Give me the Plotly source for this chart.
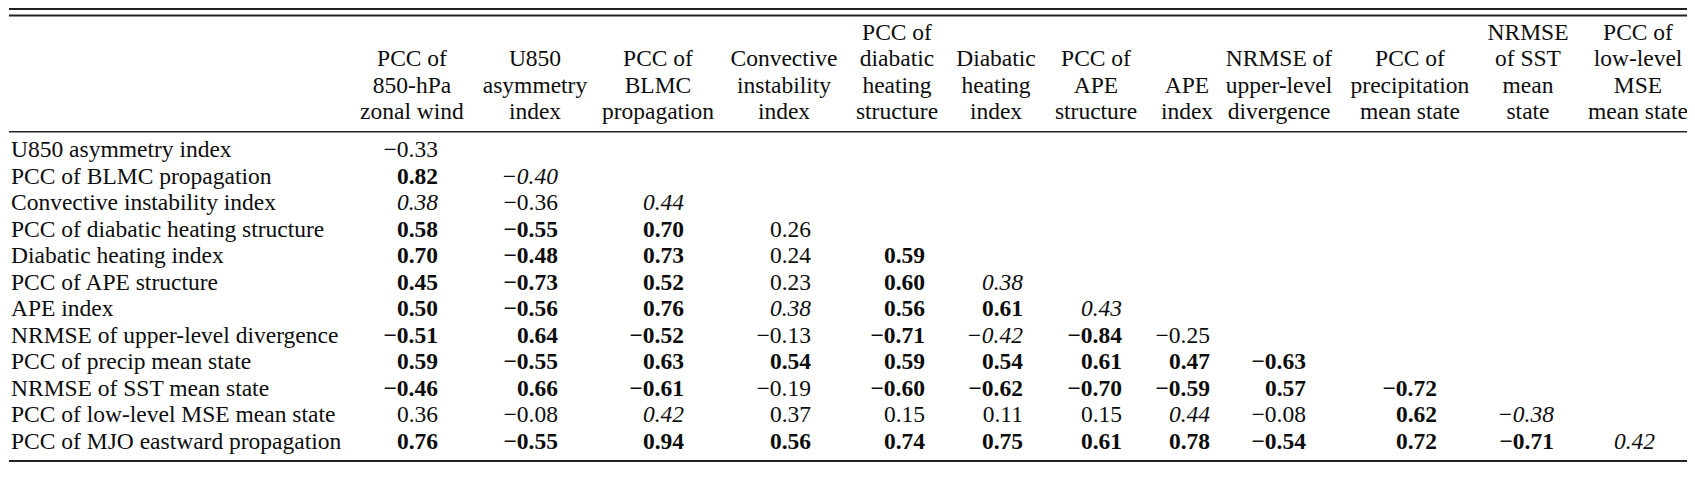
import plotly.graph_objects as go

# Correlation table between MJO diagnostics (lower triangle)
row_labels = [
    "U850 asymmetry index",
    "PCC of BLMC propagation",
    "Convective instability index",
    "PCC of diabatic heating structure",
    "Diabatic heating index",
    "PCC of APE structure",
    "APE index",
    "NRMSE of upper-level divergence",
    "PCC of precip mean state",
    "NRMSE of SST mean state",
    "PCC of low-level MSE mean state",
    "PCC of MJO eastward propagation",
]

col_labels = [
    "PCC of<br>850-hPa<br>zonal wind",
    "U850<br>asymmetry<br>index",
    "PCC of<br>BLMC<br>propagation",
    "Convective<br>instability<br>index",
    "PCC of<br>diabatic<br>heating<br>structure",
    "Diabatic<br>heating<br>index",
    "PCC of<br>APE<br>structure",
    "APE<br>index",
    "NRMSE of<br>upper-level<br>divergence",
    "PCC of<br>precipitation<br>mean state",
    "NRMSE<br>of SST<br>mean<br>state",
    "PCC of<br>low-level<br>MSE<br>mean state",
]

corr = [
    [-0.33],
    [0.82, -0.40],
    [0.38, -0.36, 0.44],
    [0.58, -0.55, 0.70, 0.26],
    [0.70, -0.48, 0.73, 0.24, 0.59],
    [0.45, -0.73, 0.52, 0.23, 0.60, 0.38],
    [0.50, -0.56, 0.76, 0.38, 0.56, 0.61, 0.43],
    [-0.51, 0.64, -0.52, -0.13, -0.71, -0.42, -0.84, -0.25],
    [0.59, -0.55, 0.63, 0.54, 0.59, 0.54, 0.61, 0.47, -0.63],
    [-0.46, 0.66, -0.61, -0.19, -0.60, -0.62, -0.70, -0.59, 0.57, -0.72],
    [0.36, -0.08, 0.42, 0.37, 0.15, 0.11, 0.15, 0.44, -0.08, 0.62, -0.38],
    [0.76, -0.55, 0.94, 0.56, 0.74, 0.75, 0.61, 0.78, -0.54, 0.72, -0.71, 0.42],
]

# significance thresholds: bold >= 99%, italic >= 95%
SIG99 = 0.45
SIG95 = 0.38

# layout, in page pixels
W, H = 1695, 478
OFF = 8  # default body margin of the html page
col_center = [412, 535, 658, 784, 897, 996, 1096, 1187, 1279, 1410, 1528, 1638]
col_right = [438, 558, 684, 811, 925, 1023, 1122, 1210, 1306, 1437, 1554, 1655]
label_x = 11
row_px = 26.5
first_row_px = 151.5
head_bottom = -1.434

FONT = "Liberation Serif, Times New Roman, serif"
FS = 23.5
INK = "#0d0d0d"


def fmt(v):
    return f"{v:.2f}".replace("-", "\u2212")


groups = {"normal": ([], [], []), "bold": ([], [], []), "italic": ([], [], [])}
for i, row in enumerate(corr):
    for j, v in enumerate(row):
        key = "bold" if abs(v) >= SIG99 else ("italic" if abs(v) >= SIG95 else "normal")
        xs, ys, ts = groups[key]
        xs.append(col_right[j])
        ys.append(i)
        ts.append(fmt(v))

fig = go.Figure()

# row labels
fig.add_trace(go.Scatter(
    x=[label_x] * len(row_labels), y=list(range(len(row_labels))),
    text=row_labels, mode="text", textposition="middle right",
    textfont=dict(family=FONT, size=FS, color=INK), hoverinfo="skip"))

# column headers, bottom aligned
hx, hy, ht = [], [], []
for j, lab in enumerate(col_labels):
    for k, line in enumerate(reversed(lab.split("<br>"))):
        hx.append(col_center[j])
        hy.append(head_bottom - k)
        ht.append(line)
fig.add_trace(go.Scatter(
    x=hx, y=hy, text=ht, mode="text", textposition="middle center",
    textfont=dict(family=FONT, size=FS, color=INK), hoverinfo="skip"))

# values
for key, (xs, ys, ts) in groups.items():
    fig.add_trace(go.Scatter(
        x=xs, y=ys, text=ts, mode="text", textposition="middle left",
        textfont=dict(family=FONT, size=FS, color=INK,
                      weight="bold" if key == "bold" else "normal",
                      style="italic" if key == "italic" else "normal"),
        hoverinfo="skip"))

# table rules: double top rule, header rule, bottom rule
fh = H - 2 * OFF
rules = [(9, 2.2), (15.5, 2.2), (131.7, 1.5), (461, 2.2)]
for ypx, lw in rules:
    yp = 1 - (ypx - OFF) / fh
    fig.add_shape(type="line", xref="x", yref="paper", x0=9, x1=1690,
                  y0=yp, y1=yp, line=dict(color="#222222", width=lw))

y_top = (OFF - first_row_px) / row_px
y_bot = (H - OFF - first_row_px) / row_px

fig.update_layout(
    width=W - 2 * OFF, height=fh,
    margin=dict(l=0, r=0, t=0, b=0),
    paper_bgcolor="white", plot_bgcolor="white",
    showlegend=False, hovermode=False,
    xaxis=dict(range=[OFF, W - OFF], visible=False, fixedrange=True),
    yaxis=dict(range=[y_bot, y_top], visible=False, fixedrange=True),
)

fig.write_html("out.html")
